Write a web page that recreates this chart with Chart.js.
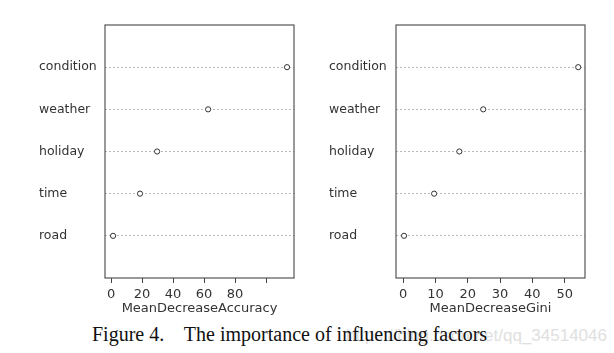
<!DOCTYPE html>
<html>
<head>
<meta charset="utf-8">
<script src="https://cdn.jsdelivr.net/npm/chart.js@4/dist/chart.umd.min.js"></script>
<style>
  body { margin: 0; background: #fff; }
  #wrap { position: relative; width: 614px; height: 353px; overflow: hidden; background: #fff; }
  canvas { position: absolute; top: 0; }
  #leftChart { left: 0; }
  #rightChart { left: 300px; }
  .caption { position: absolute; left: 92px; top: 323px; font-family: "Liberation Serif", "Times New Roman", serif; font-size: 20px; color: #111; white-space: pre; z-index: 2; }
  .mark { position: absolute; right: 7px; top: 326px; font-family: "Liberation Sans", Arial, sans-serif; font-size: 17px; color: #e0e0e0; z-index: 1; }
</style>
</head>
<body>
<div id="wrap">
  <canvas id="leftChart" width="300" height="320"></canvas>
  <canvas id="rightChart" width="314" height="320"></canvas>
  <div class="mark">https://blog.csdn.net/qq_34514046</div>
  <div class="caption">Figure 4.    The importance of influencing factors</div>
</div>
<script>
// variables, bottom to top as in the dotchart
const categories = ['road', 'time', 'holiday', 'weather', 'condition'];
const accuracy = [1.3, 18.7, 29.7, 62.6, 113.5];
const gini = [0.3, 9.6, 17.4, 24.8, 54.2];
const accuracyTicks = [0, 20, 40, 60, 80, 100];
const giniTicks = [0, 10, 20, 30, 40, 50];

const axisFont = { family: 'DejaVu Sans', size: 13 };

// frame around the plot area, like R's box()
const boxPlugin = {
    id: 'box',
    afterDraw(chart) {
        const { ctx, chartArea: a } = chart;
        ctx.save();
        ctx.strokeStyle = '#555';
        ctx.lineWidth = 1.2;
        ctx.strokeRect(a.left, a.top, a.right - a.left, a.bottom - a.top);
        ctx.restore();
    }
};

function makeChart(id, values, ticks, xmin, xmax, title, pad, yWidth) {
    const config = {
        type: 'scatter',
        data: {
            datasets: [{
                data: values.map((v, i) => ({ x: v, y: i + 1 })),
                pointStyle: 'circle',
                pointRadius: 2.6,
                pointBorderWidth: 1,
                borderColor: '#333',
                backgroundColor: '#fff'
            }]
        },
        options: {
            responsive: false,
            animation: false,
            layout: { padding: pad },
            plugins: { legend: { display: false }, tooltip: { enabled: false } },
            scales: {
                x: {
                    min: xmin,
                    max: xmax,
                    afterBuildTicks: (s) => { s.ticks = ticks.map(v => ({ value: v })); },
                    afterFit: (s) => { s.height = 42; },
                    border: { display: false },
                    grid: { drawOnChartArea: false, drawTicks: true, tickLength: 5, color: '#444', lineWidth: 1 },
                    ticks: {
                        padding: 4,
                        maxRotation: 0,
                        autoSkip: false,
                        color: '#333',
                        font: axisFont,
                        callback: (v) => (v === 100 ? '' : v)
                    },
                    title: { display: true, text: title, color: '#333', font: axisFont, padding: { top: 0, bottom: 4 } }
                },
                y: {
                    min: 0,
                    max: 6,
                    afterBuildTicks: (s) => { s.ticks = categories.map((c, i) => ({ value: i + 1 })); },
                    afterFit: (s) => { s.width = yWidth; },
                    border: { display: false, dash: [2, 2] },
                    grid: { drawTicks: false, color: '#b8b8b8', lineWidth: 1 },
                    ticks: {
                        crossAlign: 'far',
                        color: '#333',
                        font: { family: 'DejaVu Sans', size: 12.5 },
                        callback: (v) => categories[v - 1]
                    }
                }
            }
        },
        plugins: [boxPlugin]
    };
    return new Chart(document.getElementById(id), config);
}

makeChart('leftChart', accuracy, accuracyTicks, -3.9, 118, 'MeanDecreaseAccuracy',
    { left: 39, right: 6, top: 25, bottom: 0 }, 66);
makeChart('rightChart', gini, giniTicks, -2.2, 56.3, 'MeanDecreaseGini',
    { left: 29, right: 29, top: 25, bottom: 0 }, 67);
</script>
</body>
</html>
